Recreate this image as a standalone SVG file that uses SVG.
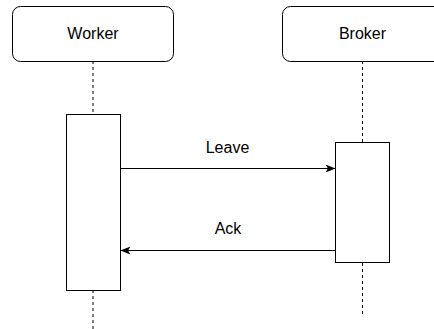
<svg xmlns="http://www.w3.org/2000/svg" width="434" height="329" viewBox="0 0 434 329">
  <style>
    .head { fill: #ffffff; stroke: #000000; stroke-width: 1; }
    .act { fill: #ffffff; stroke: #000000; stroke-width: 1; }
    .life { stroke: #000000; stroke-width: 1; stroke-dasharray: 3 3; fill: none; }
    .msg { stroke: #000000; stroke-width: 1; fill: none; marker-end: url(#arrow); }
    text { font-family: "Liberation Sans", Arial, sans-serif; font-size: 16px; fill: #000000; text-anchor: middle; }
  </style>
  <defs>
    <marker id="arrow" viewBox="0 0 10 8" refX="10" refY="4" markerWidth="10" markerHeight="8" markerUnits="userSpaceOnUse" orient="auto">
      <path d="M0,0 L10,4 L0,8 L2.5,4 Z" fill="#000000"/>
    </marker>
  </defs>

  <!-- lifelines -->
  <g id="lifelines">
    <line class="life" x1="93" y1="61" x2="93" y2="114"/>
    <line class="life" x1="93" y1="290" x2="93" y2="329"/>
    <line class="life" x1="362.5" y1="61" x2="362.5" y2="142"/>
    <line class="life" x1="362.5" y1="263" x2="362.5" y2="317"/>
  </g>

  <g id="worker">
    <rect class="head" x="12.5" y="6.5" width="161" height="55" rx="8" ry="8"/>
    <text x="93" y="39">Worker</text>
    <rect class="act" x="66.5" y="114.5" width="54" height="176"/>
  </g>

  <g id="broker">
    <rect class="head" x="282.5" y="6.5" width="161" height="55" rx="8" ry="8"/>
    <text x="362.5" y="39">Broker</text>
    <rect class="act" x="335.5" y="142.5" width="54" height="120"/>
  </g>

  <g id="connectors">
    <line class="msg" x1="120.5" y1="168.5" x2="335.5" y2="168.5"/>
    <text x="227.5" y="153">Leave</text>
    <line class="msg" x1="335.5" y1="250.5" x2="120.5" y2="250.5"/>
    <text x="228" y="234">Ack</text>
  </g>
</svg>
